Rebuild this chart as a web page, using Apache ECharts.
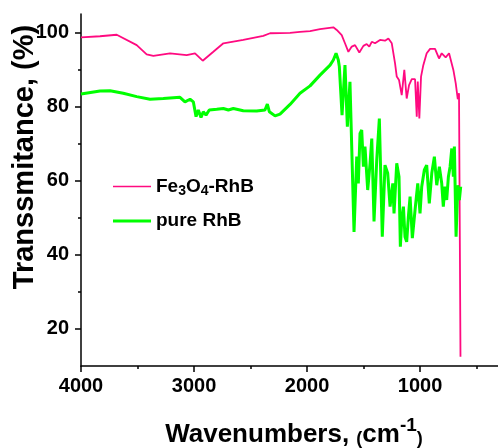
<!DOCTYPE html>
<html>
<head>
<meta charset="utf-8">
<script src="https://cdn.jsdelivr.net/npm/echarts@6/dist/echarts.min.js"></script>
<style>
  html, body { margin: 0; padding: 0; background: #fff; }
  #Chart { width: 498px; height: 448px; }
</style>
</head>
<body>
<div id="Chart"></div>
<script>
var font = "'Liberation Sans', Arial, sans-serif";
var pink = '#ff0a80';
var green = '#00ff00';

// 刻度
var xMajorTicks = [4000, 3000, 2000, 1000];
var xMinorTicks = [3500, 2500, 1500, 500];
var yMajorTicks = [20, 40, 60, 80, 100];
var yMinorTicks = [30, 50, 70, 90];

// Fe3O4-RhB
var feWave = [4000, 3832, 3684, 3507, 3419, 3360, 3212, 3065, 2991, 2923, 2829, 2740, 2564, 2387, 2327, 2150,
    2062, 1973, 1885, 1767, 1737, 1693, 1664, 1634, 1604, 1575, 1537, 1501, 1472, 1449, 1427, 1398,
    1354, 1310, 1280, 1250, 1221, 1206, 1186, 1162, 1139, 1118, 1097, 1073, 1044, 1029, 1020, 1006,
    991, 971, 941, 911, 867, 832, 808, 773, 743, 705, 684, 666, 655, 643, 642];
var feTrans = [98.7, 99.0, 99.4, 96.6, 94.1, 93.7, 94.4, 93.9, 94.4, 92.4, 94.8, 97.1, 98.0, 99.1, 99.8, 99.9,
    100.2, 100.4, 100.9, 101.4, 100.7, 99.3, 97.1, 94.8, 96.2, 96.6, 94.6, 96.4, 96.9, 96.2, 97.5, 97.1,
    98.0, 97.8, 98.4, 97.1, 91.7, 88.1, 87.2, 83.1, 89.9, 82.2, 85.8, 87.4, 87.4, 77.3, 86.8, 76.8,
    88.1, 91.2, 94.4, 95.6, 95.6, 93.0, 94.4, 93.3, 94.4, 89.9, 86.3, 82.0, 83.6, 83.1, 12.5];

// pure RhB
var rhbWave = [4000, 3832, 3743, 3626, 3507, 3389, 3272, 3124, 3080, 3065, 3035, 3006, 2982, 2962, 2938, 2918,
    2894, 2865, 2799, 2740, 2696, 2652, 2564, 2445, 2372, 2351, 2333, 2283, 2239, 2150, 2062, 1973,
    1885, 1796, 1767, 1743, 1723, 1714, 1690, 1664, 1643, 1620, 1584, 1560, 1546, 1531, 1516, 1501,
    1487, 1463, 1442, 1427, 1407, 1383, 1360, 1334, 1310, 1286, 1265, 1241, 1230, 1206, 1197, 1186,
    1174, 1162, 1147, 1133, 1118, 1103, 1088, 1068, 1044, 1020, 1000, 985, 962, 941, 918, 896,
    873, 852, 829, 808, 794, 779, 764, 749, 734, 719, 705, 696, 681, 666, 652, 640];
var rhbTrans = [83.4, 84.2, 84.3, 83.6, 82.7, 82.0, 82.2, 82.5, 81.3, 80.9, 82.0, 81.3, 77.3, 79.1, 77.1, 78.6,
    77.7, 79.1, 79.3, 79.5, 79.1, 79.5, 78.9, 78.8, 79.1, 80.7, 78.6, 77.5, 78.0, 80.6, 83.6, 85.6,
    88.5, 91.2, 92.6, 94.4, 92.6, 90.8, 77.7, 91.2, 74.6, 86.7, 46.2, 66.5, 59.3, 72.8, 73.7, 63.8,
    69.2, 57.5, 64.7, 71.4, 49.0, 65.6, 76.8, 44.9, 64.2, 62.0, 53.0, 59.3, 51.2, 64.7, 65.1, 61.1,
    42.2, 49.4, 53.0, 44.9, 43.5, 50.3, 55.7, 44.5, 52.1, 59.3, 51.2, 58.4, 62.9, 64.2, 53.9, 62.0,
    66.5, 58.8, 63.8, 59.3, 53.0, 58.4, 54.8, 61.1, 63.8, 68.7, 61.1, 69.2, 44.9, 58.8, 54.8, 58.4];

function pairs(xs, ys) {
    var out = [];
    for (var i = 0; i < xs.length; i++) out.push([xs[i], ys[i]]);
    return out;
}

var myChart = echarts.init(document.getElementById('Chart'));
var axisLine = { show: true, onZero: false, lineStyle: { color: '#000', width: 1.5 } };

var option = {
    animation: false,
    grid: { left: 81, right: 0, top: 14, bottom: 82, containLabel: false, outerBoundsMode: 'none' },
    legend: [
        {
            data: [{ name: 'Fe3O4-RhB', icon: 'rect' }],
            left: 108, top: 172,
            itemWidth: 38, itemHeight: 1.5,
            formatter: function () { return '{n|Fe}{s|3}{n|O}{s|4}{n|-RhB}'; },
            textStyle: {
                rich: {
                    n: { fontFamily: font, fontWeight: 'bold', fontSize: 19, color: '#000', lineHeight: 24 },
                    s: { fontFamily: font, fontWeight: 'bold', fontSize: 14, color: '#000', lineHeight: 24, verticalAlign: 'bottom' }
                }
            }
        },
        {
            data: [{ name: 'pure RhB', icon: 'rect' }],
            left: 108, top: 204,
            itemWidth: 38, itemHeight: 3,
            textStyle: { fontFamily: font, fontWeight: 'bold', fontSize: 19, color: '#000', lineHeight: 24 }
        }
    ],
    xAxis: [
        {
            type: 'value', inverse: true, min: 310, max: 4000,
            axisLine: axisLine,
            axisTick: { show: true, customValues: xMajorTicks, length: 6, lineStyle: { color: '#000', width: 1.5 } },
            axisLabel: {
                customValues: xMajorTicks, margin: 10, color: '#000', fontFamily: font, fontWeight: 'bold', fontSize: 20,
                formatter: function (v) { return String(v); }
            },
            splitLine: { show: false }
        },
        {
            type: 'value', inverse: true, min: 310, max: 4000, position: 'bottom',
            axisLine: { show: false },
            axisTick: { show: true, customValues: xMinorTicks, length: 3, lineStyle: { color: '#000', width: 1.5 } },
            axisLabel: { show: false },
            splitLine: { show: false }
        }
    ],
    yAxis: [
        {
            type: 'value', min: 10, max: 105,
            axisLine: axisLine,
            axisTick: { show: true, customValues: yMajorTicks, length: 6, lineStyle: { color: '#000', width: 1.5 } },
            axisLabel: { customValues: yMajorTicks, margin: 12, color: '#000', fontFamily: font, fontWeight: 'bold', fontSize: 20 },
            splitLine: { show: false }
        },
        {
            type: 'value', min: 10, max: 105, position: 'left',
            axisLine: { show: false },
            axisTick: { show: true, customValues: yMinorTicks, length: 3, lineStyle: { color: '#000', width: 1.5 } },
            axisLabel: { show: false },
            splitLine: { show: false }
        }
    ],
    graphic: [
        {
            type: 'text', x: 25, y: 157, rotation: Math.PI / 2,
            style: {
                text: 'Transsmitance, (%)', fill: '#000',
                font: 'bold 29px ' + font, align: 'center', verticalAlign: 'middle'
            }
        },
        {
            type: 'text', x: 294, y: 432,
            style: {
                text: '{a|Wavenumbers, }{b|(}{a|cm}{s|-1}{b|)}',
                align: 'center', verticalAlign: 'middle',
                rich: {
                    a: { fontFamily: font, fontWeight: 'bold', fontSize: 26, fill: '#000', lineHeight: 32, verticalAlign: 'bottom' },
                    b: { fontFamily: font, fontWeight: 'bold', fontSize: 18, fill: '#000', lineHeight: 32, verticalAlign: 'bottom' },
                    s: { fontFamily: font, fontWeight: 'bold', fontSize: 19, fill: '#000', lineHeight: 32, verticalAlign: 'top' }
                }
            }
        }
    ],
    series: [
        {
            name: 'Fe3O4-RhB', type: 'line', showSymbol: false, symbol: 'none',
            itemStyle: { color: pink },
            lineStyle: { color: pink, width: 1.8 },
            data: pairs(feWave, feTrans)
        },
        {
            name: 'pure RhB', type: 'line', showSymbol: false, symbol: 'none',
            itemStyle: { color: green },
            lineStyle: { color: green, width: 3 },
            data: pairs(rhbWave, rhbTrans)
        }
    ]
};
myChart.setOption(option);
</script>
</body>
</html>
